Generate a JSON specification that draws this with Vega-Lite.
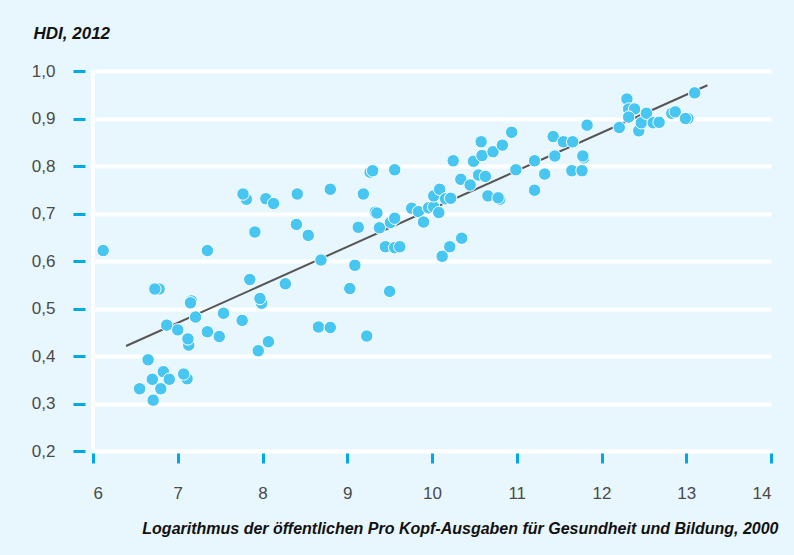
{
  "$schema": "https://vega.github.io/schema/vega-lite/v6.json",
  "width": 678,
  "height": 380,
  "autosize": {"type": "none"},
  "padding": {"left": 93, "top": 71, "right": 23, "bottom": 104},
  "background": "#e8f6fd",
  "config": {
    "view": {"stroke": null},
    "font": "Liberation Sans"
  },
  "datasets": {
    "pts": [
      {"x": 6.12, "y": 0.622}, {"x": 6.65, "y": 0.392}, {"x": 6.55, "y": 0.331}, {"x": 6.70, "y": 0.351},
      {"x": 6.71, "y": 0.307}, {"x": 6.78, "y": 0.541}, {"x": 6.73, "y": 0.541}, {"x": 6.80, "y": 0.331},
      {"x": 6.83, "y": 0.367}, {"x": 6.87, "y": 0.465}, {"x": 6.90, "y": 0.351}, {"x": 7.00, "y": 0.455},
      {"x": 7.11, "y": 0.352}, {"x": 7.07, "y": 0.362}, {"x": 7.13, "y": 0.423}, {"x": 7.12, "y": 0.436},
      {"x": 7.16, "y": 0.516}, {"x": 7.15, "y": 0.512}, {"x": 7.21, "y": 0.482}, {"x": 7.35, "y": 0.622},
      {"x": 7.35, "y": 0.451}, {"x": 7.49, "y": 0.441}, {"x": 7.54, "y": 0.490}, {"x": 7.76, "y": 0.475},
      {"x": 7.81, "y": 0.730}, {"x": 7.77, "y": 0.741}, {"x": 7.85, "y": 0.561}, {"x": 7.91, "y": 0.661},
      {"x": 7.95, "y": 0.411}, {"x": 7.99, "y": 0.511}, {"x": 7.97, "y": 0.521}, {"x": 8.04, "y": 0.731},
      {"x": 8.07, "y": 0.430}, {"x": 8.13, "y": 0.721}, {"x": 8.27, "y": 0.552}, {"x": 8.41, "y": 0.741},
      {"x": 8.40, "y": 0.677}, {"x": 8.54, "y": 0.654}, {"x": 8.66, "y": 0.461}, {"x": 8.69, "y": 0.602},
      {"x": 8.80, "y": 0.751}, {"x": 8.80, "y": 0.460}, {"x": 9.03, "y": 0.542}, {"x": 9.09, "y": 0.591},
      {"x": 9.13, "y": 0.671}, {"x": 9.19, "y": 0.741}, {"x": 9.23, "y": 0.442}, {"x": 9.27, "y": 0.787},
      {"x": 9.30, "y": 0.790}, {"x": 9.33, "y": 0.703}, {"x": 9.35, "y": 0.701}, {"x": 9.38, "y": 0.670},
      {"x": 9.45, "y": 0.630}, {"x": 9.50, "y": 0.536}, {"x": 9.51, "y": 0.681}, {"x": 9.56, "y": 0.690},
      {"x": 9.56, "y": 0.628}, {"x": 9.62, "y": 0.630}, {"x": 9.56, "y": 0.792}, {"x": 9.76, "y": 0.711},
      {"x": 9.84, "y": 0.704}, {"x": 9.90, "y": 0.682}, {"x": 9.96, "y": 0.712}, {"x": 10.02, "y": 0.714},
      {"x": 10.02, "y": 0.737}, {"x": 10.08, "y": 0.702}, {"x": 10.09, "y": 0.751}, {"x": 10.12, "y": 0.610},
      {"x": 10.16, "y": 0.731}, {"x": 10.22, "y": 0.732}, {"x": 10.21, "y": 0.630}, {"x": 10.25, "y": 0.811},
      {"x": 10.34, "y": 0.772}, {"x": 10.35, "y": 0.648}, {"x": 10.45, "y": 0.760}, {"x": 10.49, "y": 0.810},
      {"x": 10.55, "y": 0.781}, {"x": 10.58, "y": 0.851}, {"x": 10.59, "y": 0.822}, {"x": 10.63, "y": 0.778},
      {"x": 10.66, "y": 0.737}, {"x": 10.72, "y": 0.830}, {"x": 10.80, "y": 0.730}, {"x": 10.78, "y": 0.733},
      {"x": 10.83, "y": 0.844}, {"x": 10.94, "y": 0.871}, {"x": 10.99, "y": 0.792}, {"x": 11.21, "y": 0.811},
      {"x": 11.21, "y": 0.749}, {"x": 11.33, "y": 0.783}, {"x": 11.43, "y": 0.862}, {"x": 11.45, "y": 0.821},
      {"x": 11.55, "y": 0.851}, {"x": 11.65, "y": 0.790}, {"x": 11.66, "y": 0.851}, {"x": 11.77, "y": 0.790},
      {"x": 11.79, "y": 0.817}, {"x": 11.78, "y": 0.821}, {"x": 11.83, "y": 0.886}, {"x": 12.21, "y": 0.881},
      {"x": 12.30, "y": 0.941}, {"x": 12.32, "y": 0.920}, {"x": 12.39, "y": 0.920}, {"x": 12.32, "y": 0.903},
      {"x": 12.44, "y": 0.874}, {"x": 12.47, "y": 0.891}, {"x": 12.53, "y": 0.911}, {"x": 12.61, "y": 0.891},
      {"x": 12.68, "y": 0.892}, {"x": 12.83, "y": 0.911}, {"x": 12.87, "y": 0.914}, {"x": 13.02, "y": 0.900},
      {"x": 12.99, "y": 0.900}, {"x": 13.10, "y": 0.954}
    ],
    "fit": [{"x": 6.39, "y": 0.421}, {"x": 13.25, "y": 0.970}],
    "vline": [{"x": 6}]
  },
  "layer": [
    {
      "data": {"name": "vline"},
      "mark": {"type": "rule", "color": "white", "strokeWidth": 4},
      "encoding": {
        "x": {"field": "x", "type": "quantitative", "scale": {"domain": [6, 14], "nice": false, "zero": false}}
      }
    },
    {
      "data": {"name": "fit"},
      "mark": {"type": "line", "color": "#555555", "strokeWidth": 2},
      "encoding": {
        "x": {"field": "x", "type": "quantitative"},
        "y": {"field": "y", "type": "quantitative"}
      }
    },
    {
      "data": {"name": "pts"},
      "mark": {"type": "circle", "size": 155, "fill": "#46c6f1", "opacity": 1, "stroke": "white", "strokeWidth": 1},
      "encoding": {
        "x": {
          "field": "x", "type": "quantitative",
          "scale": {"domain": [6, 14], "nice": false, "zero": false},
          "axis": {
            "orient": "bottom", "offset": 2, "domain": false, "grid": false,
            "values": [6, 7, 8, 9, 10, 11, 12, 13, 14], "format": "d",
            "tickColor": "#00a8e6", "tickSize": 10, "tickWidth": 3,
            "labelPadding": 22, "labelFontSize": 17, "labelColor": "#4a4a4a",
            "title": "Logarithmus der öffentlichen Pro Kopf-Ausgaben für Gesundheit und Bildung, 2000",
            "titleFontSize": 16, "titleFontWeight": "bold", "titleFontStyle": "italic", "titleColor": "#111111",
            "titleAnchor": "end", "titleAlign": "right", "titleX": 685, "titleY": 80, "titleBaseline": "alphabetic"
          }
        },
        "y": {
          "field": "y", "type": "quantitative",
          "scale": {"domain": [0.2, 1.0], "nice": false, "zero": false},
          "axis": {
            "orient": "left", "offset": 8, "domain": false, "grid": true,
            "gridColor": "white", "gridWidth": 4, "gridOpacity": 1,
            "values": [0.2, 0.3, 0.4, 0.5, 0.6, 0.7, 0.8, 0.9, 1.0],
            "labelExpr": "replace(format(datum.value, '.1f'), '.', ',')",
            "tickColor": "#00a8e6", "tickSize": 12, "tickWidth": 3,
            "labelPadding": 18, "labelFontSize": 17, "labelColor": "#4a4a4a",
            "title": "HDI, 2012", "titleAngle": 0, "titleAlign": "left", "titleX": -52, "titleY": -33,
            "titleBaseline": "alphabetic", "titleFontSize": 17, "titleFontWeight": "bold", "titleFontStyle": "italic", "titleColor": "#111111"
          }
        }
      }
    }
  ]
}
